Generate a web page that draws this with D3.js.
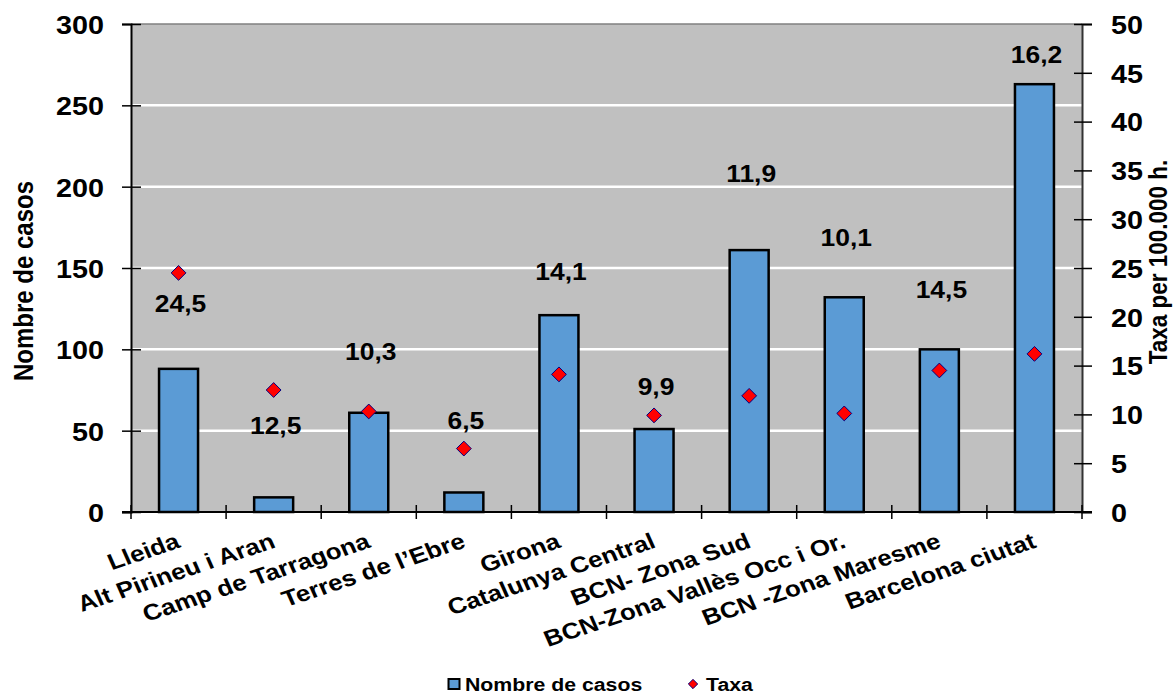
<!DOCTYPE html>
<html>
<head>
<meta charset="utf-8">
<script src="https://cdn.jsdelivr.net/npm/d3@7"></script>
<style>
  body { margin: 0; background: #fff; }
  text { font-family: "Liberation Sans", Arial, sans-serif; font-weight: bold; fill: #000; }
</style>
</head>
<body>
<svg id="chart" width="1176" height="694"></svg>
<script>
// Regions and their values
const categories = [
  "Lleida", "Alt Pirineu i Aran", "Camp de Tarragona", "Terres de l\u2019Ebre",
  "Girona", "Catalunya Central", "BCN- Zona Sud", "BCN-Zona Vall\u00e8s Occ i Or.",
  "BCN -Zona Maresme", "Barcelona ciutat"
];
const casos = [88, 9, 61, 12, 121, 51, 161, 132, 100, 263];
const taxa = [24.5, 12.5, 10.3, 6.5, 14.1, 9.9, 11.9, 10.1, 14.5, 16.2];
const leftTicks = [0, 50, 100, 150, 200, 250, 300];
const rightTicks = [0, 5, 10, 15, 20, 25, 30, 35, 40, 45, 50];

// Vertical offset (px) of each rate label from its marker
const labelShift = [31, 36, -59, -27, -102, -28, -222, -175, -80, -299];

const SX = 1.15; // horizontal widening of the lettering
const svg = d3.select("#chart");
const plot = { left: 131, right: 1082, top: 24, bottom: 512 };

const x = d3.scaleBand().domain(categories).range([plot.left, plot.right]);
const yL = d3.scaleLinear().domain([0, 300]).range([plot.bottom, plot.top]);
const yR = d3.scaleLinear().domain([0, 50]).range([plot.bottom, plot.top]);

const fmt = v => d3.format(".1f")(v).replace(".", ",");
const place = (sel, px, py, rot) =>
  sel.attr("transform", `translate(${px},${py}) scale(${SX},1)` + (rot ? ` rotate(${rot})` : ""));

// Plot background and grid
svg.append("rect")
  .attr("x", plot.left).attr("y", plot.top)
  .attr("width", plot.right - plot.left).attr("height", plot.bottom - plot.top)
  .attr("fill", "#c0c0c0");

svg.append("g").selectAll("line")
  .data(leftTicks.filter(t => t > 0 && t < 300))
  .join("line")
  .attr("x1", plot.left).attr("x2", plot.right)
  .attr("y1", d => yL(d)).attr("y2", d => yL(d))
  .attr("stroke", "#fff").attr("stroke-width", 2.5);

svg.append("line")
  .attr("x1", plot.left).attr("x2", plot.right)
  .attr("y1", plot.top).attr("y2", plot.top)
  .attr("stroke", "#808080").attr("stroke-width", 1.5);

// Bars
svg.append("g").selectAll("rect")
  .data(casos)
  .join("rect")
  .attr("x", (d, i) => x(categories[i]) + x.bandwidth() * 0.295)
  .attr("width", x.bandwidth() * 0.41)
  .attr("y", d => yL(d))
  .attr("height", d => yL(0) - yL(d))
  .attr("fill", "#5b9bd5")
  .attr("stroke", "#000").attr("stroke-width", 2.5);

// Left axis
const axL = svg.append("g").attr("transform", `translate(${plot.left},0)`)
  .call(d3.axisLeft(yL).tickValues(leftTicks).tickSize(9).tickFormat(d3.format("d")));
axL.select(".domain").attr("stroke", "#000").attr("stroke-width", 2);
axL.selectAll(".tick line").attr("x1", 10).attr("stroke", "#000").attr("stroke-width", 1.5);
axL.selectAll(".tick text").each(function () {
  d3.select(this).attr("x", null).attr("dy", null)
    .attr("text-anchor", "end").attr("dominant-baseline", "central")
    .attr("font-size", 25).style("font-family", null);
  place(d3.select(this), -27, 1);
});

// Right axis
const axR = svg.append("g").attr("transform", `translate(${plot.right},0)`)
  .call(d3.axisRight(yR).tickValues(rightTicks).tickSize(10).tickFormat(d3.format("d")));
axR.select(".domain").attr("stroke", "#333").attr("stroke-width", 2);
axR.selectAll(".tick line").attr("x1", -8).attr("stroke", "#000").attr("stroke-width", 1.5);
axR.selectAll(".tick text").each(function () {
  d3.select(this).attr("x", null).attr("dy", null)
    .attr("text-anchor", "start").attr("dominant-baseline", "central")
    .attr("font-size", 25).style("font-family", null);
  place(d3.select(this), 29, 1);
});

// Category axis
svg.append("line")
  .attr("x1", plot.left - 9).attr("x2", plot.right + 10)
  .attr("y1", plot.bottom).attr("y2", plot.bottom)
  .attr("stroke", "#000").attr("stroke-width", 2);
const bounds = categories.map(c => x(c)).concat([plot.right]);
svg.append("g").selectAll("line")
  .data(bounds)
  .join("line")
  .attr("x1", d => d).attr("x2", d => d)
  .attr("y1", plot.bottom - 7).attr("y2", plot.bottom + 7)
  .attr("stroke", "#000").attr("stroke-width", 1.5);

svg.append("g").selectAll("text")
  .data(categories)
  .join("text")
  .attr("text-anchor", "end")
  .attr("font-size", 22.5)
  .text(d => d)
  .each(function (d) { place(d3.select(this), x(d) + x.bandwidth() / 2 + 3, 547, -21); });

// Rate markers
const diamond = d3.symbol().type(d3.symbolDiamond2).size(140);
svg.append("g").selectAll("path")
  .data(taxa)
  .join("path")
  .attr("d", diamond)
  .attr("transform", (d, i) => `translate(${x(categories[i]) + x.bandwidth() / 2},${yR(d)})`)
  .attr("fill", "#ff0000")
  .attr("stroke", "#000080").attr("stroke-width", 1);

// Rate labels
svg.append("g").selectAll("text")
  .data(taxa)
  .join("text")
  .attr("text-anchor", "middle")
  .attr("dominant-baseline", "central")
  .attr("font-size", 23)
  .text(d => fmt(d))
  .each(function (d, i) {
    place(d3.select(this), x(categories[i]) + x.bandwidth() / 2 + 2, yR(d) + labelShift[i]);
  });

// Axis titles
place(svg.append("text").attr("text-anchor", "middle").attr("font-size", 24)
  .text("Nombre de casos"), 33, 281, -90);
place(svg.append("text").attr("text-anchor", "middle").attr("font-size", 22.5)
  .text("Taxa per 100.000 h."), 1167, 262, -90);

// Legend
const lg = svg.append("g");
lg.append("rect").attr("x", 448.5).attr("y", 679).attr("width", 11).attr("height", 10)
  .attr("fill", "#5b9bd5").attr("stroke", "#000").attr("stroke-width", 2);
place(lg.append("text").attr("font-size", 18.5).text("Nombre de casos"), 465, 691);
lg.append("path").attr("d", d3.symbol().type(d3.symbolDiamond2).size(55))
  .attr("transform", "translate(693,684)")
  .attr("fill", "#ff0000").attr("stroke", "#000080").attr("stroke-width", 1);
place(lg.append("text").attr("font-size", 18.5).text("Taxa"), 706, 691);
</script>
</body>
</html>
